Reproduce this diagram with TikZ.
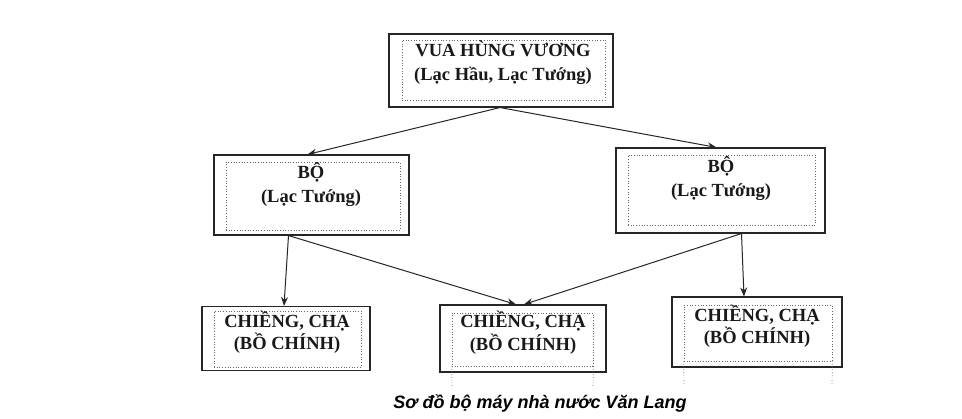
\documentclass[tikz,border=0pt]{standalone}
\usepackage{fontspec}
\setmainfont{Liberation Serif}
\newfontfamily\capfont{Liberation Sans}
\usetikzlibrary{arrows.meta}
\begin{document}
\begin{tikzpicture}[x=1pt,y=-1pt,
  outerbox/.style={draw=black!85,line width=1.1pt,inner sep=0pt,fill=white},
  innerbox/.style={draw=black!60,dotted,line width=0.7pt,inner sep=0pt},
  boxtext/.style={font=\fontsize{18.5}{24}\selectfont\bfseries,align=center,inner sep=0pt,text=black!90},
  conn/.style={draw=black!85,line width=1pt,-{Stealth[length=9pt,width=7pt]}},
  tail/.style={draw=black!55,dotted,line width=0.7pt}]
\useasboundingbox[fill=white] (0,0) rectangle (962,419);
% outer boxes
\node[outerbox,minimum width=224pt,minimum height=73pt] (top) at (501,70.5) {};
\node[outerbox,minimum width=195pt,minimum height=80pt] (lbo) at (311.5,195) {};
\node[outerbox,minimum width=209pt,minimum height=85pt] (rbo) at (720.5,190.5) {};
\node[outerbox,minimum width=168pt,minimum height=64pt] (bl) at (286,338.5) {};
\node[outerbox,minimum width=166pt,minimum height=67pt] (bm) at (523,338.5) {};
\node[outerbox,minimum width=170pt,minimum height=70pt] (br) at (757,332) {};
% inner dotted boxes
\node[innerbox,minimum width=203pt,minimum height=60pt] (topi) at (503.5,70) {};
\node[innerbox,minimum width=174pt,minimum height=68pt] (lboi) at (313,196) {};
\node[innerbox,minimum width=187pt,minimum height=70pt] (rboi) at (721.5,190) {};
\node[innerbox,minimum width=147pt,minimum height=56pt] (bli) at (287.5,339) {};
\node[innerbox,minimum width=141pt,minimum height=53pt] (bmi) at (522.5,339.5) {};
\node[innerbox,minimum width=148pt,minimum height=56pt] (bri) at (758,333) {};
\coordinate (bmt1) at (452,387);
\coordinate (bmt2) at (593,387);
\coordinate (brt1) at (684,385);
\coordinate (brt2) at (832,385);
\draw[tail] (bmi.south west) -- (bmt1);
\draw[tail] (bmi.south east) -- (bmt2);
\draw[tail] (bri.south west) -- (brt1);
\draw[tail] (bri.south east) -- (brt2);
% texts
\node[boxtext] (toptxt) at (503,63) {VUA HÙNG VƯƠNG\\(Lạc Hầu, Lạc Tướng)};
\node[boxtext] (lbotxt) at (311,185) {BỘ\\(Lạc Tướng)};
\node[boxtext] (rbotxt) at (721,179) {BỘ\\(Lạc Tướng)};
\node[boxtext,font=\fontsize{18.5}{22}\selectfont\bfseries] (bltxt) at (287,332) {CHIỀNG, CHẠ\\(BỒ CHÍNH)};
\node[boxtext,font=\fontsize{18.5}{23}\selectfont\bfseries] (bmtxt) at (523,333) {CHIỀNG, CHẠ\\(BỒ CHÍNH)};
\node[boxtext,font=\fontsize{18.5}{22}\selectfont\bfseries] (brtxt) at (757,326) {CHIỀNG, CHẠ\\(BỒ CHÍNH)};
% connectors
\draw[conn] ([xshift=-1pt]top.south) -- ([xshift=-4pt]lbo.north);
\draw[conn] ([xshift=-1pt]top.south) -- ([xshift=-4pt]rbo.north);
\draw[conn] ([xshift=-23pt]lbo.south) -- ([xshift=-2pt]bl.north);
\draw[conn] ([xshift=-23pt]lbo.south) -- ([xshift=-7pt]bm.north);
\draw[conn] ([xshift=21pt]rbo.south) -- ([xshift=1pt]bm.north);
\draw[conn] ([xshift=21pt]rbo.south) -- ([xshift=-13pt]br.north);
% caption
\node[font=\capfont\fontsize{18}{20}\selectfont\bfseries\itshape,inner sep=0pt] (cap) at (540,403) {Sơ đồ bộ máy nhà nước Văn Lang};
\end{tikzpicture}
\end{document}
